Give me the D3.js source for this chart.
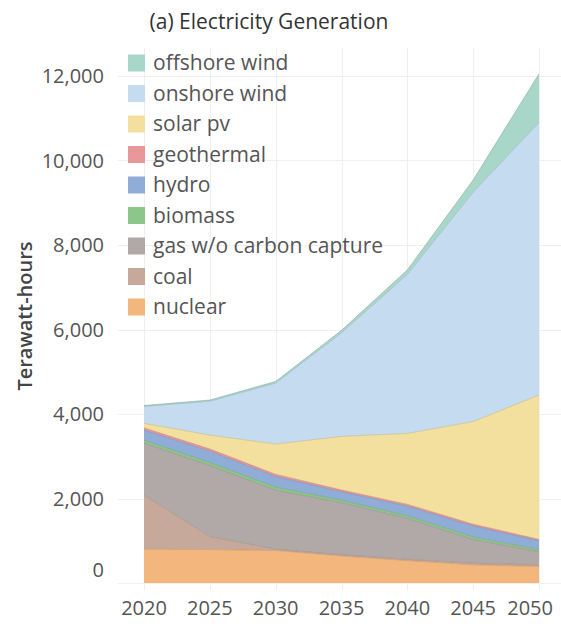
<!DOCTYPE html>
<html>
<head>
<meta charset="utf-8">
<script src="https://cdn.jsdelivr.net/npm/d3@7"></script>
<style>
  html, body { margin: 0; padding: 0; background: #fff; }
  svg { display: block; }
  text { font-family: "Open Sans", "Noto Sans", sans-serif; }
</style>
</head>
<body>
<svg id="chart" width="561" height="640"></svg>
<script>
// Electricity generation by source, terawatt-hours
const years = [2020, 2025, 2030, 2035, 2040, 2045, 2050];

const nuclear    = [800, 790, 770, 640, 530, 430, 390];
const coal       = [1280, 310, 30, 30, 30, 40, 40];
const gas        = [1230, 1680, 1400, 1230, 970, 560, 310];
const biomass    = [70, 70, 70, 60, 60, 60, 50];
const hydro      = [240, 270, 250, 200, 230, 260, 210];
const geothermal = [50, 50, 50, 40, 40, 40, 30];
const solarPv    = [110, 330, 720, 1270, 1680, 2430, 3420];
const onshore    = [400, 800, 1440, 2450, 3760, 5430, 6450];
const offshore   = [20, 30, 40, 60, 110, 290, 1150];

// stacking order, bottom to top
const seriesKeys  = ["nuclear", "coal", "gas w/o carbon capture", "biomass", "hydro",
                     "geothermal", "solar pv", "onshore wind", "offshore wind"];
const seriesData  = [nuclear, coal, gas, biomass, hydro, geothermal, solarPv, onshore, offshore];
const seriesColor = ["#f3b77e", "#c6a99a", "#b1a9a8", "#8cc68b", "#8fadd6",
                     "#e8979b", "#f3e09e", "#c5dcf0", "#a8d7c9"];

const yTicks = [0, 2000, 4000, 6000, 8000, 10000, 12000];

const rows = years.map((yr, i) => {
  const r = { year: yr };
  seriesKeys.forEach((k, j) => { r[k] = seriesData[j][i]; });
  return r;
});

const svg = d3.select("#chart");

const x = d3.scaleLinear().domain([2020, 2050]).range([144, 539]);
const y = d3.scaleLinear().domain([0, 12000]).range([583, 76]);

// pane gridlines
const grid = svg.append("g").attr("stroke", "#efefef").attr("stroke-width", 1);
grid.selectAll("line.h").data(yTicks).join("line")
  .attr("x1", 118).attr("x2", 561)
  .attr("y1", d => Math.round(y(d)) + 0.5).attr("y2", d => Math.round(y(d)) + 0.5);
grid.selectAll("line.v").data(years).join("line")
  .attr("y1", 48).attr("y2", 590)
  .attr("x1", d => Math.round(x(d)) + 0.5).attr("x2", d => Math.round(x(d)) + 0.5);

// stacked areas
const stacked = d3.stack().keys(seriesKeys)(rows);
const area = d3.area()
  .x(d => x(d.data.year))
  .y0(d => y(d[0]))
  .y1(d => y(d[1]));
const topLine = d3.line()
  .x(d => x(d.data.year))
  .y(d => y(d[1]));

const layers = svg.append("g");
layers.selectAll("path.area").data(stacked).join("path")
  .attr("class", "area")
  .attr("d", area)
  .attr("fill", (d, i) => seriesColor[i]);
layers.selectAll("path.edge").data(stacked).join("path")
  .attr("class", "edge")
  .attr("d", topLine)
  .attr("fill", "none")
  .attr("stroke", (d, i) => d3.color(seriesColor[i]).darker(0.6))
  .attr("stroke-opacity", 0.6)
  .attr("stroke-width", 1);

// y axis labels
const fmt = d3.format(",");
svg.append("g").selectAll("text").data(yTicks).join("text")
  .attr("x", 104)
  .attr("y", d => d === 0 ? y(d) - 13 : y(d))
  .attr("dy", "0.35em")
  .attr("text-anchor", "end")
  .attr("font-size", 20)
  .attr("fill", "#555")
  .text(d => fmt(d));

// x axis labels
svg.append("g").selectAll("text").data(years).join("text")
  .attr("x", (d, i) => i === years.length - 1 ? 553 : x(d))
  .attr("y", 608)
  .attr("dy", "0.35em")
  .attr("text-anchor", (d, i) => i === years.length - 1 ? "end" : "middle")
  .attr("font-size", 20)
  .attr("fill", "#555")
  .text(d => d);

// axis title
svg.append("text")
  .attr("transform", "translate(25,316) rotate(-90)")
  .attr("text-anchor", "middle")
  .attr("dy", "0.35em")
  .attr("font-size", 20)
  .attr("font-weight", 600)
  .attr("fill", "#444")
  .text("Terawatt-hours");

// chart title
svg.append("text")
  .attr("x", 269).attr("y", 22)
  .attr("dy", "0.35em")
  .attr("text-anchor", "middle")
  .attr("font-size", 21)
  .attr("fill", "#333")
  .text("(a) Electricity Generation");

// legend, listed top layer first
const legendItems = seriesKeys.map((k, i) => ({ key: k, color: seriesColor[i] })).reverse();
const legend = svg.append("g");
const item = legend.selectAll("g").data(legendItems).join("g")
  .attr("transform", (d, i) => `translate(128,${63 + i * 30.5})`);
item.append("rect")
  .attr("x", 0).attr("y", -8.5).attr("width", 17).attr("height", 17)
  .attr("fill", d => d.color);
item.append("text")
  .attr("x", 25).attr("y", 0).attr("dy", "0.35em")
  .attr("font-size", 21)
  .attr("fill", "#555")
  .text(d => d.key);
</script>
</body>
</html>
